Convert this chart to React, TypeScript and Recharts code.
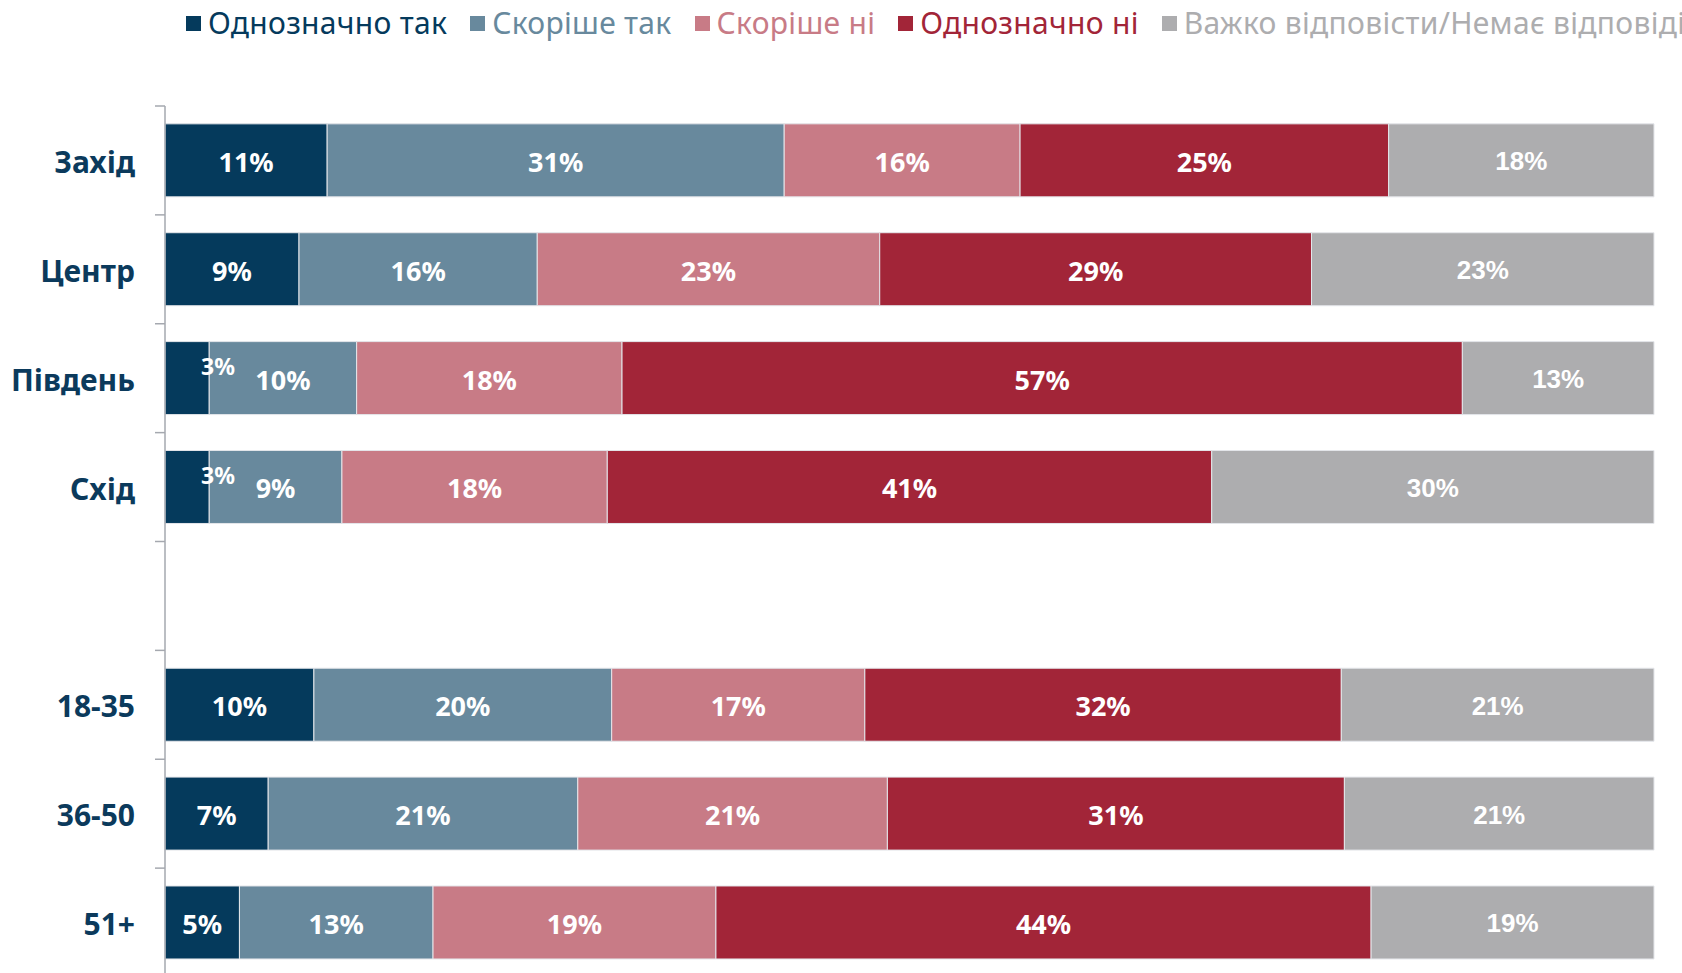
import { BarChart, Bar, XAxis, YAxis, Legend, LabelList } from "recharts";

const categories = ["Захід", "Центр", "Південь", "Схід", "", "18-35", "36-50", "51+"];
const definitelyYes = [11, 9, 3, 3, 0, 10, 7, 5];
const ratherYes = [31, 16, 10, 9, 0, 20, 21, 13];
const ratherNo = [16, 23, 18, 18, 0, 17, 21, 19];
const definitelyNo = [25, 29, 57, 41, 0, 32, 31, 44];
const hardToSay = [18, 23, 13, 30, 0, 21, 21, 19];

const seriesNames = [
  "Однозначно так",
  "Скоріше так",
  "Скоріше ні",
  "Однозначно ні",
  "Важко відповісти/Немає відповіді",
];
const seriesKeys = ["s1", "s2", "s3", "s4", "s5"];
const colors = ["#053A5C", "#68899D", "#C87B86", "#A22538", "#ADADAF"];

const data = categories.map((name, i) => ({
  name,
  s1: definitelyYes[i],
  s2: ratherYes[i],
  s3: ratherNo[i],
  s4: definitelyNo[i],
  s5: hardToSay[i],
}));

const NAVY = "#0B3A5C";
const AXIS = "#A5A8AF";

// labels inside segments; tiny ones were nudged up/right in the original
const makeLabel = (family: string, size: number) => (props: any) => {
  const vb = props.viewBox ?? props;
  const { x, y, width, height } = vb;
  const v = props.value;
  if (!v) return null;
  const cy = y + height / 2;
  if (v <= 3) {
    return (
      <text
        x={x + width / 2 + 14}
        y={cy - 12}
        fill="#fff"
        fontSize={23}
        fontWeight={700}
        fontFamily={family}
        textAnchor="start"
        dominantBaseline="central"
      >
        {v}%
      </text>
    );
  }
  return (
    <text
      x={x + width / 2}
      y={cy + 1}
      fill="#fff"
      fontSize={size}
      fontWeight={700}
      fontFamily={family}
      textAnchor="middle"
      dominantBaseline="central"
    >
      {v}%
    </text>
  );
};

const CategoryTick = (props: any) => {
  const { x, y, payload } = props;
  const off = payload?.offset ?? 54;
  return (
    <g>
      <line x1={x + 20} x2={x + 30} y1={y - off} y2={y - off} stroke={AXIS} strokeWidth={1.5} />
      <text
        x={x}
        y={y + 1}
        textAnchor="end"
        dominantBaseline="central"
        fill={NAVY}
        fontSize={30}
        fontWeight={700}
        fontFamily="Noto Sans"
      >
        {payload.value}
      </text>
    </g>
  );
};

const renderLegend = (props: any) => {
  const items = [...(props.payload ?? [])].sort(
    (a: any, b: any) => seriesNames.indexOf(a.value) - seriesNames.indexOf(b.value)
  );
  return (
    <div
      style={{
        display: "flex",
        whiteSpace: "nowrap",
        paddingLeft: 186,
        height: 50,
        alignItems: "flex-start",
        paddingTop: 6,
        boxSizing: "border-box",
      }}
    >
      {items.map((it: any) => (
        <div key={it.value} style={{ display: "flex", alignItems: "center", marginRight: 23 }}>
          <span style={{ width: 15, height: 15, background: it.color, marginRight: 7, display: "inline-block" }} />
          <span
            style={{
              color: it.color,
              fontSize: 30,
              fontFamily: "Noto Sans",
              lineHeight: "34px",
              letterSpacing: 0.3,
            }}
          >
            {it.value}
          </span>
        </div>
      ))}
    </div>
  );
};

export default function App() {
  return (
    <div
      style={{
        position: "absolute",
        left: 0,
        top: 0,
        width: 1682,
        height: 973,
        overflow: "hidden",
        background: "#fff",
      }}
    >
      <BarChart
        width={1682}
        height={990}
        data={data}
        layout="vertical"
        stackOffset="expand"
        barCategoryGap="16.4%"
        margin={{ top: 56, right: 28, left: 0, bottom: 13 }}
      >
        <XAxis type="number" hide domain={[0, 1]} />
        <YAxis
          type="category"
          dataKey="name"
          width={165}
          axisLine={{ stroke: AXIS, strokeWidth: 1.5 }}
          tickLine={false}
          tickSize={10}
          tickMargin={20}
          tick={<CategoryTick />}
          interval={0}
        />
        <Legend
          verticalAlign="top"
          align="left"
          content={renderLegend}
          itemSorter={null}
          wrapperStyle={{ top: 0, left: 0 }}
        />
        {seriesKeys.map((k, i) => (
          <Bar
            key={k}
            dataKey={k}
            name={seriesNames[i]}
            stackId="a"
            fill={colors[i]}
            stroke="#e4e6ea"
            strokeWidth={1}
            isAnimationActive={false}
          >
            <LabelList
              dataKey={k}
              content={i === 4 ? makeLabel("Liberation Sans", 26) : makeLabel("Noto Sans", 27)}
            />
          </Bar>
        ))}
      </BarChart>
    </div>
  );
}
